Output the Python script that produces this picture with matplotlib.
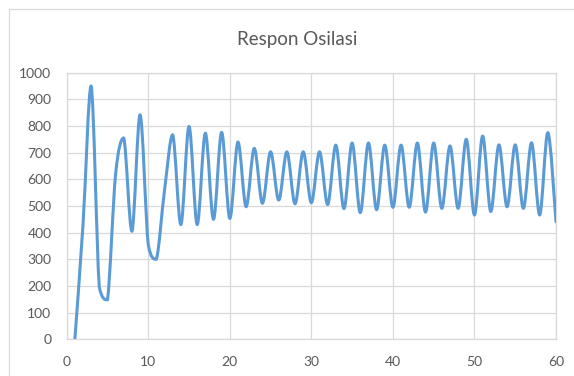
import matplotlib
matplotlib.use("Agg")
import matplotlib.pyplot as plt
from matplotlib.path import Path
from matplotlib.patches import PathPatch
from matplotlib.lines import Line2D
import numpy as np

# ── data ───────────────────────────────────────────────────────────────────
t = list(range(1, 61))
respon = [0, 430, 950, 195, 148, 620, 755, 405, 842, 355,
          300, 560, 767, 430, 798, 430, 773, 450, 776, 453,
          740, 497, 716, 510, 703, 522, 703, 508, 703, 512,
          703, 505, 728, 490, 736, 475, 736, 486, 728, 495,
          728, 495, 736, 477, 736, 491, 725, 491, 750, 466,
          762, 479, 729, 497, 729, 491, 737, 466, 775, 441]

BLUE = "#5B9BD5"
GRID = "#D9D9D9"
TEXT = "#595959"

plt.rcParams["font.family"] = ["Lato", "DejaVu Sans"]

fig = plt.figure(figsize=(5.74, 3.76), dpi=100)
ax = fig.add_axes([66.7 / 574, 36.7 / 376, 489.3 / 574, 266.7 / 376])

# smoothed line like Excel (cubic bezier through the points, control
# points kept inside each segment's range so it doesn't overshoot)
pts = np.column_stack([t, respon]).astype(float)
verts = [pts[0]]
codes = [Path.MOVETO]
n = len(pts)
for i in range(n - 1):
    p0 = pts[i - 1] if i > 0 else pts[i]
    p1 = pts[i]
    p2 = pts[i + 1]
    p3 = pts[i + 2] if i + 2 < n else pts[i + 1]
    c1 = p1 + (p2 - p0) / 6
    c2 = p2 - (p3 - p1) / 6
    lo, hi = min(p1[1], p2[1]), max(p1[1], p2[1])
    c1[1] = np.clip(c1[1], lo, hi)
    c2[1] = np.clip(c2[1], lo, hi)
    verts += [c1, c2, p2]
    codes += [Path.CURVE4] * 3
ax.add_patch(PathPatch(Path(verts, codes), fill=False, edgecolor=BLUE,
                       linewidth=2.2, capstyle="round", joinstyle="round", zorder=3))

ax.set_xlim(0, 60)
ax.set_ylim(0, 1000)
ax.set_xticks(range(0, 61, 10))
ax.set_yticks(range(0, 1001, 100))
ax.grid(True, color=GRID, linewidth=0.9)
ax.set_axisbelow(True)
for s in ax.spines.values():
    s.set_color(GRID)
    s.set_linewidth(0.9)
ax.tick_params(length=0, labelsize=10, labelcolor=TEXT)
ax.tick_params(axis="y", pad=11)
ax.tick_params(axis="x", pad=12)

fig.text(296.7 / 574, 1 - 39 / 376, "Respon Osilasi", ha="center", va="center",
         fontsize=13.5, color=TEXT)

# chart area border (top and left visible in the crop)
fig.add_artist(Line2D([9 / 574, 1], [1 - 9 / 376] * 2, transform=fig.transFigure,
                      color=GRID, linewidth=0.9))
fig.add_artist(Line2D([9 / 574] * 2, [0, 1 - 9 / 376], transform=fig.transFigure,
                      color=GRID, linewidth=0.9))

fig.savefig("out.png", dpi=100)
